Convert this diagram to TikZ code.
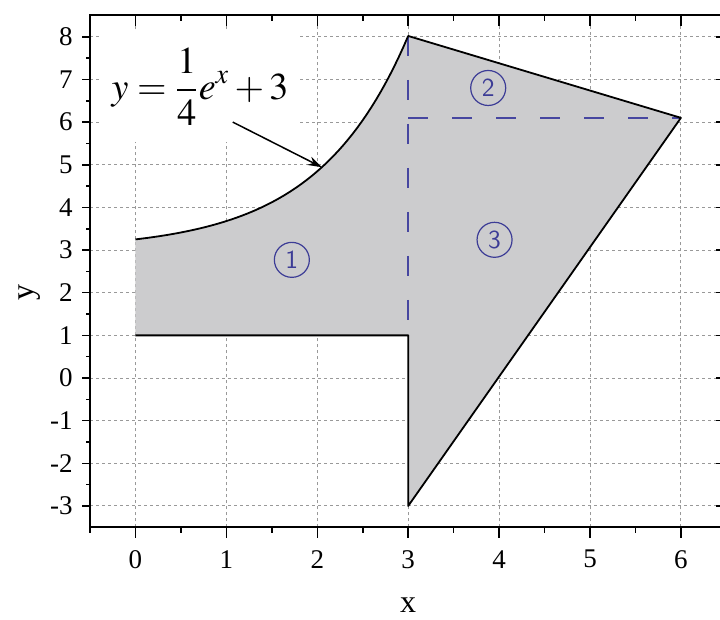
\documentclass[tikz,border=0pt]{standalone}
\usepackage{mathptmx}
\usepackage{fontspec}
\setmainfont{Liberation Serif}
\usetikzlibrary{arrows.meta}
\definecolor{regiongray}{RGB}{204,204,206}
\definecolor{penblue}{RGB}{60,60,150}
\definecolor{dashblue}{RGB}{70,70,160}
\tikzset{
  gridline/.style={draw=gray!80, line width=0.5pt, dash pattern=on 1.4pt off 1.6pt},
  outline/.style={draw=black, line width=0.9pt, line join=round},
  helper/.style={draw=dashblue, line width=0.8pt, dash pattern=on 10pt off 12pt},
  frameline/.style={draw=black, line width=1pt},
  tickmark/.style={draw=black, line width=0.8pt},
  ticklabel/.style={font=\fontsize{13.5}{15}\selectfont, inner sep=0pt},
  axislabel/.style={font=\fontsize{16}{18}\selectfont, inner sep=0pt},
  circlabel/.style={circle, draw=penblue, text=penblue, line width=0.6pt, minimum size=17.5pt, inner sep=0pt, font=\fontsize{13}{14}\sffamily},
}
\begin{document}
\begin{tikzpicture}[x=45.45pt,y=21.325pt]
\useasboundingbox (-1.4906,-5.651) rectangle (6.4301,8.863);
\clip (-1.4906,-5.651) rectangle (6.4301,8.863);
% grid
\foreach \i in {0,...,6} \draw[gridline] (\i,-3.5) -- (\i,8.5);
\foreach \j in {-3,...,8} \draw[gridline] (-0.5,\j) -- (6.5,\j);
% vertices
\coordinate (A) at (0,1);
\coordinate (B) at (0,3.25);
\coordinate (C) at (3,8.0214);
\coordinate (D) at (6,6.1);
\coordinate (E) at (3,-3);
\coordinate (F) at (3,1);
\coordinate (G) at (3,6.1);
% region
\fill[regiongray] (A) -- (B) -- plot[domain=0:3, samples=60] (\x,{0.25*exp(\x)+3}) -- (D) -- (E) -- (F) -- cycle;
% helper dashed lines
\draw[helper] (C) -- (F);
\draw[helper] (G) -- (D);
% outline
\draw[outline] plot[domain=0:3, samples=60] (\x,{0.25*exp(\x)+3}) -- (D) -- (E) -- (F) -- (A);
% circled labels
\node[circlabel] (r1) at (1.72,2.77) {1};
\node[circlabel] (r2) at (3.88,6.80) {2};
\node[circlabel] (r3) at (3.95,3.24) {3};
% equation
\node[fill=white, minimum width=100pt, minimum height=55pt, inner sep=0pt] (eq) at (0.71,6.82)
  {\fontsize{19}{21}\selectfont$\displaystyle y=\frac{1}{4}e^{x}+3$};
\coordinate (arrstart) at (1.07,6.0);
\coordinate (arrend) at (2.05,4.942);
\draw[black, line width=0.75pt, -{Stealth[length=7pt,width=4.5pt]}] (arrstart) -- (arrend);
% frame
\draw[frameline] (-0.5,-3.5) rectangle (6.5,8.5);
% ticks bottom and top
\foreach \i in {0,...,6} {
  \draw[tickmark] (\i,-3.5) -- ++(0,-5.5pt);
  \draw[tickmark] (\i,8.5) -- ++(0,-5.5pt);
  \node[ticklabel] (xl\i) at ([yshift=-16pt]\i,-3.5) {\i};
}
\foreach \i in {-0.5,0.5,1.5,2.5,3.5,4.5,5.5} {
  \draw[tickmark] (\i,-3.5) -- ++(0,-3pt);
  \draw[tickmark] (\i,8.5) -- ++(0,-3pt);
}
% ticks left and right
\foreach \j in {-3,...,8} {
  \draw[tickmark] (-0.5,\j) -- ++(-4pt,0);
  \draw[tickmark] (6.5,\j) -- ++(-5pt,0);
  \node[ticklabel, anchor=east] (yl\j) at ([xshift=-8.5pt]-0.5,\j) {\j};
}
\foreach \j in {-2.5,-1.5,-0.5,0.5,1.5,2.5,3.5,4.5,5.5,6.5,7.5} {
  \draw[tickmark] (-0.5,\j) -- ++(-2pt,0);
  \draw[tickmark] (6.5,\j) -- ++(-2.5pt,0);
}
% axis labels
\node[axislabel] (xlab) at (3,-5.32) {x};
\node[axislabel, rotate=90] (ylab) at (-1.16,2.0) {y};
\end{tikzpicture}
\end{document}
